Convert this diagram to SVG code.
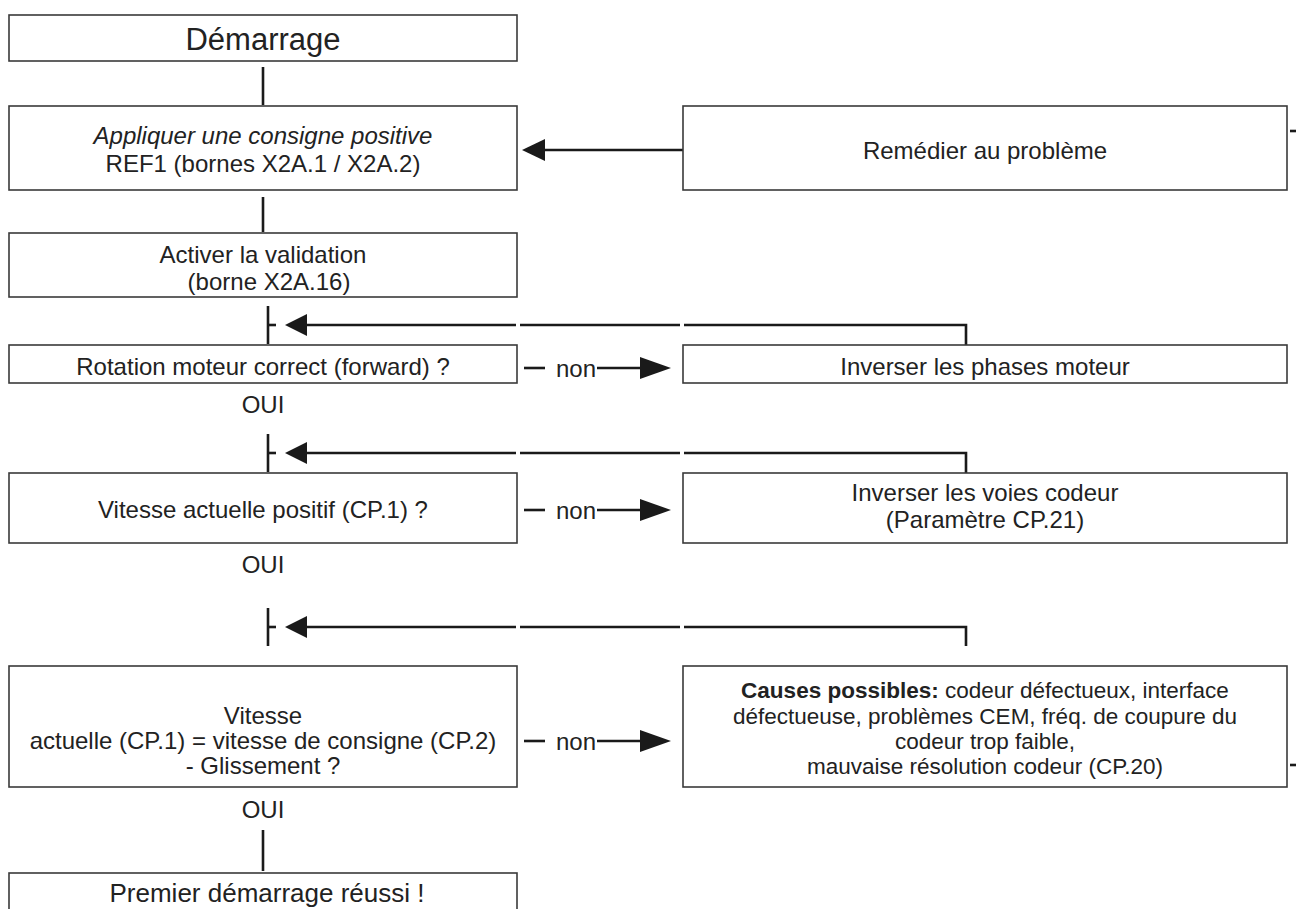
<svg xmlns="http://www.w3.org/2000/svg" width="1302" height="909" viewBox="0 0 1302 909">
<style>
.box{fill:#fff;stroke:#3a3a3a;stroke-width:1.6}
.ln{stroke:#1a1a1a;stroke-width:2.6;fill:none}
.t{font-family:"Liberation Sans",Arial,sans-serif;font-size:24px;fill:#222;text-anchor:middle}
.big{font-size:31px}
.end{font-size:26px}
.cz{font-size:22.5px}
.ah{fill:#1a1a1a}
</style>
<rect width="1302" height="909" fill="#fff"/>
<g id="connectors">
  <line class="ln" x1="263" y1="67" x2="263" y2="105"/>
  <line class="ln" x1="263" y1="197" x2="263" y2="232"/>
  <line class="ln" x1="263" y1="830" x2="263" y2="871"/>
  <line class="ln" x1="545" y1="150" x2="683" y2="150"/>
  <polygon class="ah" points="522,150 545,139 545,161"/>
  <line class="ln" x1="268" y1="306" x2="268" y2="344"/>
  <line class="ln" x1="268" y1="325" x2="276" y2="325"/>
  <polygon class="ah" points="285,325 307,314 307,336"/>
  <path class="ln" d="M307 325H516M520 325H680M684 325H966V345"/>
  <line class="ln" x1="268" y1="434" x2="268" y2="472"/>
  <line class="ln" x1="268" y1="453" x2="276" y2="453"/>
  <polygon class="ah" points="285,453 307,442 307,464"/>
  <path class="ln" d="M307 453H516M520 453H680M684 453H966V473"/>
  <line class="ln" x1="268" y1="608" x2="268" y2="646"/>
  <line class="ln" x1="268" y1="627" x2="276" y2="627"/>
  <polygon class="ah" points="285,627 307,616 307,638"/>
  <path class="ln" d="M307 627H516M520 627H680M684 627H966V646"/>
  <line class="ln" x1="524" y1="368" x2="545" y2="368"/>
  <line class="ln" x1="597" y1="368" x2="640" y2="368"/>
  <polygon class="ah" points="671,368 640,357 640,379"/>
  <line class="ln" x1="524" y1="510" x2="545" y2="510"/>
  <line class="ln" x1="597" y1="510" x2="640" y2="510"/>
  <polygon class="ah" points="671,510 640,499 640,521"/>
  <line class="ln" x1="524" y1="741" x2="545" y2="741"/>
  <line class="ln" x1="597" y1="741" x2="640" y2="741"/>
  <polygon class="ah" points="671,741 640,730 640,752"/>
  <line class="ln" x1="1290" y1="131" x2="1296" y2="131" stroke-width="1.5"/>
  <line class="ln" x1="1290" y1="765" x2="1296" y2="765" stroke-width="1.5"/>
</g>
<g id="n-demarrage">
  <rect class="box" x="9" y="15" width="508" height="46"/>
  <text class="t big" x="263" y="50">Démarrage</text>
</g>
<g id="n-consigne">
  <rect class="box" x="9" y="106" width="508" height="84"/>
  <text class="t" x="263" y="144" font-style="italic">Appliquer une consigne positive</text>
  <text class="t" x="263" y="172">REF1 (bornes X2A.1 / X2A.2)</text>
</g>
<g id="n-remedier">
  <rect class="box" x="683" y="106" width="604" height="84"/>
  <text class="t" x="985" y="159" font-size="25">Remédier au problème</text>
</g>
<g id="n-validation">
  <rect class="box" x="9" y="233" width="508" height="64"/>
  <text class="t" x="263" y="263">Activer la validation</text>
  <text class="t" x="269" y="290">(borne X2A.16)</text>
</g>
<g id="n-rotation">
  <rect class="box" x="9" y="345" width="508" height="38"/>
  <text class="t" x="263" y="375">Rotation moteur correct (forward) ?</text>
</g>
<g id="n-phases">
  <rect class="box" x="683" y="345" width="604" height="38"/>
  <text class="t" x="985" y="375">Inverser les phases moteur</text>
</g>
<g id="l-non1"><text class="t" x="576" y="377">non</text></g>
<g id="l-oui1"><text class="t" x="263" y="413">OUI</text></g>
<g id="n-vitesse">
  <rect class="box" x="9" y="473" width="508" height="70"/>
  <text class="t" x="263" y="518">Vitesse actuelle positif (CP.1) ?</text>
</g>
<g id="n-voies">
  <rect class="box" x="683" y="473" width="604" height="70"/>
  <text class="t" x="985" y="501">Inverser les voies codeur</text>
  <text class="t" x="985" y="528">(Paramètre CP.21)</text>
</g>
<g id="l-non2"><text class="t" x="576" y="519">non</text></g>
<g id="l-oui2"><text class="t" x="263" y="573">OUI</text></g>
<g id="n-glissement">
  <rect class="box" x="9" y="666" width="508" height="121"/>
  <text class="t" x="263" y="724">Vitesse</text>
  <text class="t" x="263" y="749">actuelle (CP.1) = vitesse de consigne (CP.2)</text>
  <text class="t" x="263" y="774">- Glissement ?</text>
</g>
<g id="n-causes">
  <rect class="box" x="683" y="666" width="604" height="121"/>
  <text class="t cz" x="985" y="698"><tspan font-weight="bold">Causes possibles:</tspan> codeur défectueux, interface</text>
  <text class="t cz" x="985" y="724">défectueuse, problèmes CEM, fréq. de coupure du</text>
  <text class="t cz" x="985" y="749">codeur trop faible,</text>
  <text class="t cz" x="985" y="774">mauvaise résolution codeur (CP.20)</text>
</g>
<g id="l-non3"><text class="t" x="576" y="750">non</text></g>
<g id="l-oui3"><text class="t" x="263" y="818">OUI</text></g>
<g id="n-reussi">
  <rect class="box" x="9" y="873" width="508" height="40"/>
  <text class="t end" x="267" y="902">Premier démarrage réussi !</text>
</g>
</svg>
